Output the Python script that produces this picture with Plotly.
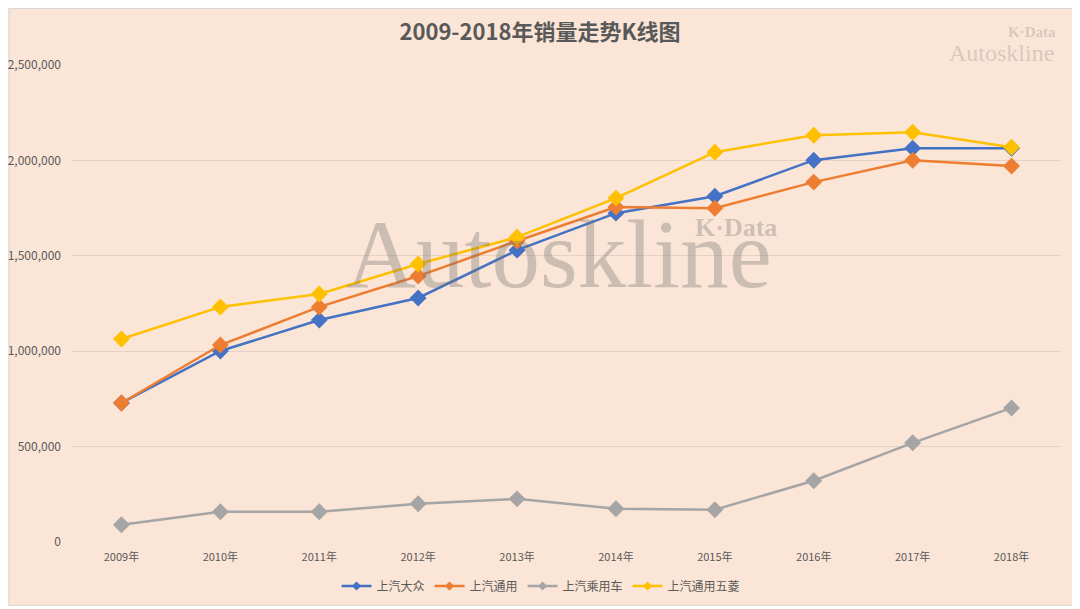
import plotly.graph_objects as go

years = ["2009年", "2010年", "2011年", "2012年", "2013年", "2014年", "2015年", "2016年", "2017年", "2018年"]
vw = [728000, 1001000, 1163000, 1279000, 1530000, 1724000, 1813000, 2002000, 2065000, 2065000]
gm = [728000, 1032000, 1232000, 1394000, 1578000, 1756000, 1750000, 1887000, 2002000, 1971000]
pv = [89000, 157000, 157000, 199000, 225000, 173000, 168000, 320000, 519000, 702000]
wl = [1064000, 1232000, 1300000, 1457000, 1598000, 1803000, 2044000, 2133000, 2149000, 2070000]

series_names = ["上汽大众", "上汽通用", "上汽乘用车", "上汽通用五菱"]
series_vals = [vw, gm, pv, wl]
colors = ["#4472C4", "#ED7D31", "#A5A5A5", "#FFC000"]
y_ticks = [0, 500000, 1000000, 1500000, 2000000, 2500000]
y_tick_text = ["0", "500,000", "1,000,000", "1,500,000", "2,000,000", "2,500,000"]

# plot-area geometry in screenshot pixels (page has 8px body margin)
PL, PR, PT, PB = 71.5, 1061.5, 65, 542
PW, PH = PR - PL, PB - PT
FW, FH = 1068, 598


def px(x):
    return (x - PL) / PW


def py(y):
    return (PB - y) / PH


fig = go.Figure()
for name, vals, c in zip(series_names, series_vals, colors):
    fig.add_trace(go.Scatter(
        x=years, y=vals, name=name, mode="lines+markers", showlegend=False,
        line=dict(color=c, width=2.5),
        marker=dict(symbol="diamond", size=13, color=c),
    ))
# legend entries with small markers like the reference
for name, c in zip(series_names, colors):
    fig.add_trace(go.Scatter(
        x=[None], y=[None], name=name, mode="lines+markers",
        line=dict(color=c, width=2.5),
        marker=dict(symbol="diamond", size=7, color=c),
    ))

fig.update_layout(
    width=FW, height=FH,
    paper_bgcolor="#FBE5D6", plot_bgcolor="#FBE5D6",
    margin=dict(l=PL - 8, r=FW + 8 - PR, t=PT - 8, b=FH + 8 - PB),
    title=dict(text="<b>2009-2018年销量走势K线图</b>", x=532 / FW, xanchor="center",
               y=1 - 24 / FH, yanchor="middle",
               font=dict(family="Noto Sans CJK SC", size=22, color="#595959")),
    font=dict(family="Noto Sans CJK SC", color="#595959"),
    xaxis=dict(type="category", range=[-0.5, 9.5], showgrid=False, showline=False, zeroline=False,
               ticks="", tickfont=dict(size=11, color="#595959"), ticklabelstandoff=7,
               automargin=False),
    yaxis=dict(range=[-1500, 2501500], tickvals=y_ticks, ticktext=y_tick_text, showgrid=True,
               gridcolor="#E6D2C4", gridwidth=1, zeroline=False, showline=False,
               tickfont=dict(size=12, color="#595959"), ticks="", ticklabelstandoff=10,
               automargin=False),
    legend=dict(orientation="h", x=px(541), xanchor="center",
                yref="container", y=1 - (586 - 8) / FH, yanchor="middle",
                font=dict(size=12, color="#595959"), bgcolor="rgba(0,0,0,0)", itemwidth=30),
    showlegend=True,
)

wm = "rgba(110,110,110,0.33)"
wm2 = "rgba(110,110,110,0.25)"
fig.add_annotation(text="Autoskline", x=px(559), y=py(254), xref="paper", yref="paper",
                   xanchor="center", yanchor="middle", showarrow=False,
                   font=dict(family="Liberation Serif", size=97, color=wm))
fig.add_annotation(text="<b>K·Data</b>", x=px(736), y=py(228), xref="paper", yref="paper",
                   xanchor="center", yanchor="middle", showarrow=False,
                   font=dict(family="Liberation Serif", size=26, color=wm))
fig.add_annotation(text="<b>K·Data</b>", x=px(1032), y=py(32), xref="paper", yref="paper",
                   xanchor="center", yanchor="middle", showarrow=False,
                   font=dict(family="Liberation Serif", size=15, color=wm2))
fig.add_annotation(text="Autoskline", x=px(1002), y=py(53), xref="paper", yref="paper",
                   xanchor="center", yanchor="middle", showarrow=False,
                   font=dict(family="Liberation Serif", size=24, color=wm2))

# thin chart border
fig.add_shape(type="rect", xref="paper", yref="paper",
              x0=px(8.5), x1=px(1075.5), y0=py(605.5), y1=py(8.5),
              line=dict(color="#D9D9D9", width=1), fillcolor="rgba(0,0,0,0)", layer="below")

fig.write_html("out.html")
